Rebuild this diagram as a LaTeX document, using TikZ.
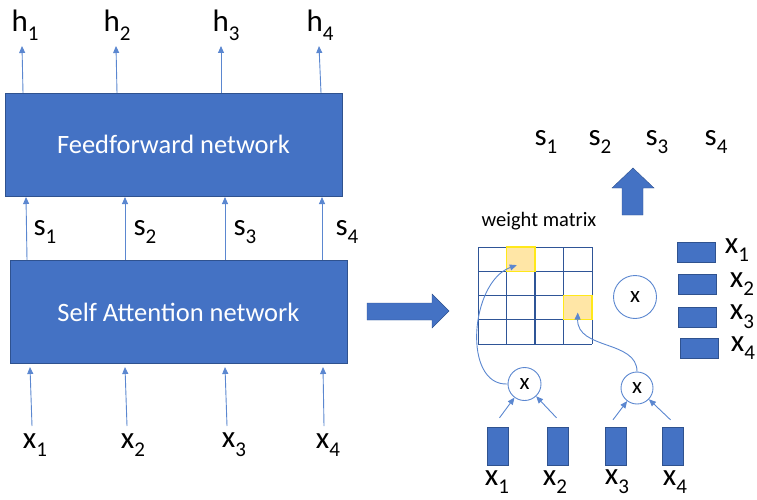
\documentclass[tikz,border=0pt]{standalone}
\usepackage{fontspec}
\setmainfont{Carlito}
\usetikzlibrary{arrows.meta,calc}

\definecolor{boxblue}{HTML}{4472C4}
\definecolor{edgeblue}{HTML}{2F528F}
\definecolor{linkblue}{HTML}{5B87D0}
\definecolor{gridblue}{HTML}{2F5597}
\definecolor{cellfill}{HTML}{FFE6A6}
\definecolor{cellrim}{HTML}{FFE81A}

\newcommand{\lab}[2]{#1\raisebox{-0.28em}{\fontsize{21}{21}\selectfont #2}}

\tikzset{
	net/.style={fill=boxblue, draw=edgeblue, text=white, font=\fontsize{26.5}{26.5}\selectfont, minimum width=337pt, minimum height=103pt, inner sep=0},
	var/.style={font=\fontsize{31}{31}\selectfont, inner sep=0},
	link/.style={draw=linkblue, line width=0.9pt, -{Triangle[length=7pt,width=6pt]}},
	vec/.style={fill=boxblue, draw=edgeblue, line width=0.4pt, inner sep=0},
	vbar/.style={vec, minimum width=21pt, minimum height=38pt},
	hbar/.style={vec, minimum width=38pt, minimum height=20pt},
	mult/.style={circle, draw=linkblue, line width=0.9pt, fill=white, inner sep=0, font=\fontsize{23}{23}\selectfont},
	gridline/.style={draw=gridblue, line width=0.7pt},
	pick/.style={fill=cellfill, draw=cellrim, line width=1.3pt, minimum width=28.5pt, minimum height=24.25pt, inner sep=0},
	block/.style={fill=boxblue, draw=edgeblue, line width=0.4pt}
}

\begin{document}
\begin{tikzpicture}[x=1pt, y=-1pt]
	\useasboundingbox (0,0) rectangle (757,500);

	% Networks
	\node[net] (ff) at (173.5,144.5) {Feedforward network};
	\node[net] (sa) at (178.5,312) {Self Attention network};

	% Outputs h
	\foreach \i/\xb/\xt/\xl in {1/23/22/25, 2/117/116/117, 3/221/221/226, 4/321/319/320} {
		\coordinate (hb\i) at (\xb,93);
		\coordinate (ht\i) at (\xt,46);
		\node[var] (h\i) at (\xl,25) {\lab{h}{\i}};
		\draw[link] (hb\i) -- (ht\i);
	}

	% s between the networks
	\foreach \i/\xb/\xt/\xl in {1/27/26/45, 2/125/125/145, 3/225/225/245, 4/322/322/347} {
		\coordinate (sb\i) at (\xb,260);
		\coordinate (st\i) at (\xt,197);
		\node[var] (s\i) at (\xl,232) {\lab{s}{\i}};
		\draw[link] (sb\i) -- (st\i);
	}

	% Inputs x
	\foreach \i/\xb/\xt/\xl in {1/32/30/35, 2/127/125/133, 3/227/225/234, 4/324/323/328} {
		\coordinate (xb\i) at (\xb,426);
		\coordinate (xt\i) at (\xt,367);
		\node[var] (x\i) at (\xl,445) {\lab{x}{\i}};
		\draw[link] (xb\i) -- (xt\i);
	}

	% Block arrows
	\draw[block] (367,303) -- (432,303) -- (432,294) -- (449,311) -- (432,328) -- (432,320) -- (367,320) -- cycle;
	\draw[block] (622,215) -- (622,188) -- (612,188) -- (633,168) -- (654,188) -- (643,188) -- (643,215) -- cycle;

	% Top right s
	\foreach \i/\xl in {1/546, 2/600, 3/657, 4/716}
		\node[var] (so\i) at (\xl,142) {\lab{s}{\i}};

	% Weight matrix
	\node[font=\fontsize{20.5}{20.5}\selectfont, inner sep=0] (wm) at (539,221) {weight matrix};
	\foreach \i in {0,...,4} {
		\draw[gridline] (478+28.5*\i,247) -- (478+28.5*\i,344);
		\draw[gridline] (478,247+24.25*\i) -- (592,247+24.25*\i);
	}
	\draw[gridline, line width=1.3pt] (535,247) -- (535,344);
	\draw[gridline, line width=1.3pt] (478,295.5) -- (592,295.5);
	\node[pick] (w12) at (520.75,259.1) {};
	\node[pick] (w34) at (577.75,307.6) {};

	% Products
	\node[mult, minimum size=43pt] (mall) at (635,297) {x};
	\node[mult, minimum size=33pt] (m12) at (524.5,384) {x};
	\node[mult, minimum size=32pt] (m34) at (637,388) {x};

	% Vectors below
	\foreach \i/\xv/\xl in {1/497.5/497, 2/557.5/555, 3/616/617, 4/672.5/675} {
		\node[vbar] (b\i) at (\xv,446) {};
		\node[var] (bl\i) at (\xl,482) {\lab{x}{\i}};
	}
	\draw[link] ($(b1.north)+(2,-9)$) -- (m12);
	\draw[link] ($(b2.north)+(-1,-9)$) -- (m12);
	\draw[link] ($(b3.north)+(-3,-7)$) -- (m34);
	\draw[link] ($(b4.north)+(-2,-7)$) -- (m34);

	% Into the matrix
	\draw[link] (m12.west) .. controls (462,386) and (470,282) .. ([shift={(-4,6)}]w12.center);
	\draw[link] (m34.north) .. controls (637,340) and (577,350) .. ([shift={(0,5)}]w34.center);

	% Vectors on the right
	\foreach \i/\xv/\yv/\xl/\yl in {1/696/252/737/250, 2/697.5/284/742/284, 3/697.5/317.5/742/317, 4/699/348.5/743/348} {
		\node[hbar] (r\i) at (\xv,\yv) {};
		\node[var] (rl\i) at (\xl,\yl) {\lab{x}{\i}};
	}

\end{tikzpicture}
\end{document}
